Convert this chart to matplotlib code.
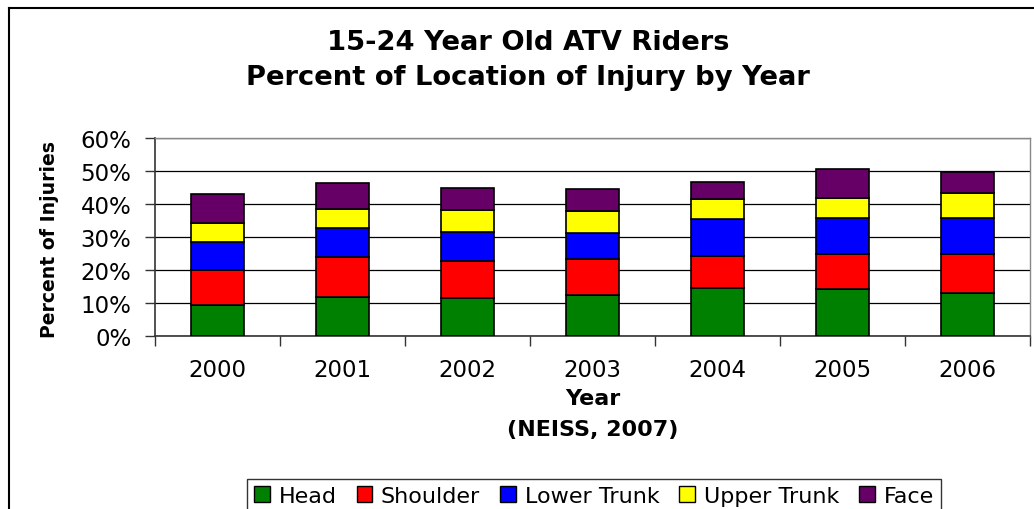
import numpy as np
import matplotlib
matplotlib.use("Agg")
import matplotlib.pyplot as plt
from matplotlib.patches import Patch
from matplotlib.lines import Line2D

plt.rcParams['font.family'] = ['DejaVu Sans']

# percent of injuries by body location, 15-24 year old riders
years = ['2000', '2001', '2002', '2003', '2004', '2005', '2006']
head = [9.5, 11.7, 11.6, 12.5, 14.6, 14.2, 13.0]
shoulder = [10.6, 12.2, 11.0, 10.9, 9.7, 10.8, 11.7]
lower_trunk = [8.5, 8.8, 8.8, 7.7, 11.1, 10.7, 11.1]
upper_trunk = [5.7, 5.9, 6.7, 6.7, 6.1, 6.2, 7.4]
face = [8.6, 7.7, 6.9, 6.8, 5.2, 8.6, 6.4]

series = [('Head', head, '#008000'),
          ('Shoulder', shoulder, '#ff0000'),
          ('Lower Trunk', lower_trunk, '#0000ff'),
          ('Upper Trunk', upper_trunk, '#ffff00'),
          ('Face', face, '#660066')]

W, H = 1034, 510
fig = plt.figure(figsize=(W / 100, H / 100), dpi=100)
ax = fig.add_axes([155 / W, 1 - 337 / H, (1030 - 155) / W, (337 - 139) / H])

x = np.arange(len(years))
bottom = np.zeros(len(years))
handles = []
for name, vals, col in series:
    vals = np.array(vals)
    ax.bar(x, vals, width=0.42, bottom=bottom, color=col,
           edgecolor='black', linewidth=1.2, zorder=3)
    bottom += vals
    handles.append(Patch(facecolor=col, edgecolor='black', linewidth=1.0, label=name))

ax.set_xlim(-0.5, len(years) - 0.5)
ax.set_ylim(0, 60)
ax.set_yticks(np.arange(0, 61, 10))
ax.set_yticklabels(['%d%%' % v for v in range(0, 61, 10)], fontsize=16.5)
ax.yaxis.grid(True, color='black', linewidth=0.9, zorder=0)
ax.tick_params(axis='y', direction='out', length=7, width=1, color='#333333', pad=10)

ax.set_xticks(x)
ax.set_xticklabels(years, fontsize=16.5)
ax.set_xticks(np.arange(-0.5, len(years)), minor=True)
ax.tick_params(axis='x', which='major', length=0, pad=16)
ax.tick_params(axis='x', which='minor', direction='out', length=7, width=1, color='#333333')

for s in ['top', 'right']:
    ax.spines[s].set_color('#888888')
    ax.spines[s].set_linewidth(1.0)
for s in ['left', 'bottom']:
    ax.spines[s].set_color('#333333')
    ax.spines[s].set_linewidth(1.2)

fig.text(50 / W, 1 - 240 / H, 'Percent of Injuries', rotation=90, ha='center', va='center',
         fontsize=13.6, fontweight='bold')

fig.text(528 / W, 1 - 43 / H, '15-24 Year Old ATV Riders', ha='center', va='center',
         fontsize=19.7, fontweight='bold')
fig.text(528 / W, 1 - 78 / H, 'Percent of Location of Injury by Year', ha='center',
         va='center', fontsize=19.7, fontweight='bold')
fig.text(593 / W, 1 - 399 / H, 'Year', ha='center', va='center', fontsize=16, fontweight='bold')
fig.text(593 / W, 1 - 430 / H, '(NEISS, 2007)', ha='center', va='center', fontsize=16,
         fontweight='bold')

# chart area border (left and top edges)
fig.add_artist(Line2D([9 / W, 9 / W], [0, 1 - 9 / H], transform=fig.transFigure,
                      color='black', linewidth=1.5))
fig.add_artist(Line2D([9 / W, 1], [1 - 9 / H, 1 - 9 / H], transform=fig.transFigure,
                      color='black', linewidth=1.5))

leg = fig.legend(handles=handles, loc='upper center', bbox_to_anchor=(594 / W, 1 - 480 / H),
                 ncol=5, fontsize=16, frameon=True, fancybox=False, edgecolor='black',
                 handlelength=0.7, handleheight=0.7, handletextpad=0.4, columnspacing=0.9,
                 borderpad=0.3, borderaxespad=0)
leg.get_frame().set_linewidth(1.0)

fig.savefig('out.png', dpi=100)
